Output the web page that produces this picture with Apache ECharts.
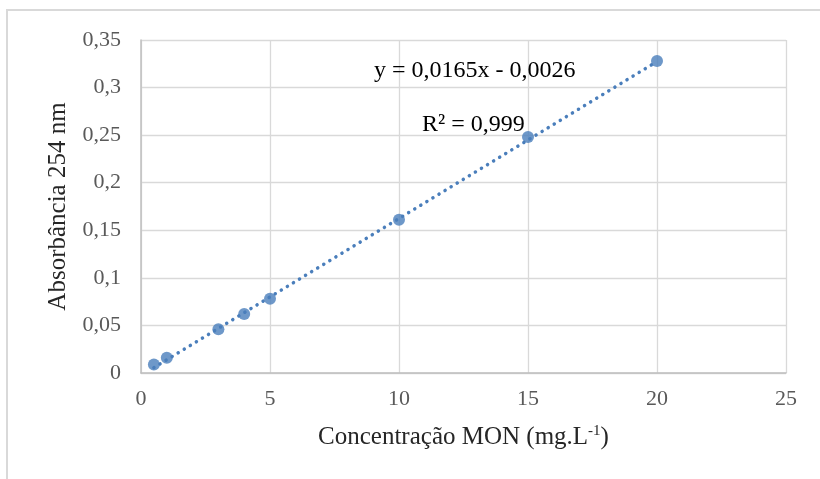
<!DOCTYPE html>
<html>
<head>
<meta charset="utf-8">
<script src="https://cdn.jsdelivr.net/npm/echarts@6/dist/echarts.min.js"></script>
<style>
  html, body { margin: 0; padding: 0; background: #ffffff; }
  #frame { position: absolute; left: 6px; top: 9px; width: 830px; height: 480px;
           border-left: 2px solid #d9d9d9; border-top: 2px solid #d9d9d9; box-sizing: border-box; }
  #chart { position: absolute; left: 0; top: 0; width: 820px; height: 479px; }
</style>
</head>
<body>
<div id="frame"></div>
<div id="chart"></div>
<script>
// Calibration points: MON concentration (mg/L) vs absorbance at 254 nm
const concentration = [0.5, 1, 3, 4, 5, 10, 15, 20];
const absorbance = [0.009, 0.016, 0.046, 0.062, 0.078, 0.161, 0.248, 0.328];

// Linear fit reported on the chart
const slope = 0.0165;
const intercept = -0.0026;
const rSquared = '0,999';
const fitRange = [0.5, 20];

const xTicks = [0, 5, 10, 15, 20, 25];
const yTicks = [0, 0.05, 0.1, 0.15, 0.2, 0.25, 0.3, 0.35];

const blue = '#4a7ebb';
const serif = '"Liberation Serif", "Times New Roman", serif';

const fmt = v => String(v).replace('.', ',');
const fitLine = fitRange.map(x => [x, slope * x + intercept]);

const chart = echarts.init(document.getElementById('chart'), null, { renderer: 'canvas' });
chart.setOption({
  animation: false,
  backgroundColor: 'transparent',
  grid: { left: 141, right: 34, top: 40, bottom: 106 },
  xAxis: {
    type: 'value',
    min: xTicks[0], max: xTicks[xTicks.length - 1], interval: 5,
    name: 'Concentração MON (mg.L{sup|-1})',
    nameLocation: 'middle', nameGap: 51,
    nameTextStyle: {
      fontFamily: serif, fontSize: 25, color: '#262626',
      rich: { sup: { fontFamily: serif, fontSize: 15, color: '#262626', verticalAlign: 'top', padding: [0, 0, 12, 0] } }
    },
    axisLine: { show: true, lineStyle: { color: '#bfbfbf', width: 1.5 } },
    axisTick: { show: false },
    axisLabel: { fontFamily: serif, fontSize: 22, color: '#595959', margin: 15, formatter: v => fmt(v) },
    splitLine: { show: true, lineStyle: { color: '#d9d9d9', width: 1.3 } }
  },
  yAxis: {
    type: 'value',
    min: yTicks[0], max: yTicks[yTicks.length - 1], interval: 0.05,
    name: 'Absorbância 254 nm',
    nameLocation: 'middle', nameGap: 70,
    nameTextStyle: { fontFamily: serif, fontSize: 25, color: '#262626' },
    axisLine: { show: true, lineStyle: { color: '#bfbfbf', width: 1.5 } },
    axisTick: { show: false },
    axisLabel: { fontFamily: serif, fontSize: 22, color: '#595959', margin: 20,
                 formatter: v => fmt(+v.toFixed(2)) },
    splitLine: { show: true, lineStyle: { color: '#d9d9d9', width: 1.3 } }
  },
  series: [
    {
      type: 'line',
      data: fitLine,
      showSymbol: false,
      silent: true,
      z: 1,
      lineStyle: { color: blue, width: 3.5, type: [0.1, 7], cap: 'round' }
    },
    {
      type: 'scatter',
      data: concentration.map((x, i) => [x, absorbance[i]]),
      symbol: 'circle',
      symbolSize: 12,
      z: 2,
      itemStyle: { color: blue }
    }
  ],
  graphic: [
    {
      type: 'text', left: 374, top: 59, z: 10,
      style: { text: 'y = 0,0165x - 0,0026', fontFamily: serif, fontSize: 24, fill: '#000000' }
    },
    {
      type: 'text', left: 422, top: 113, z: 10,
      style: { text: 'R² = ' + rSquared, fontFamily: serif, fontSize: 24, fill: '#000000' }
    }
  ]
});
</script>
</body>
</html>
